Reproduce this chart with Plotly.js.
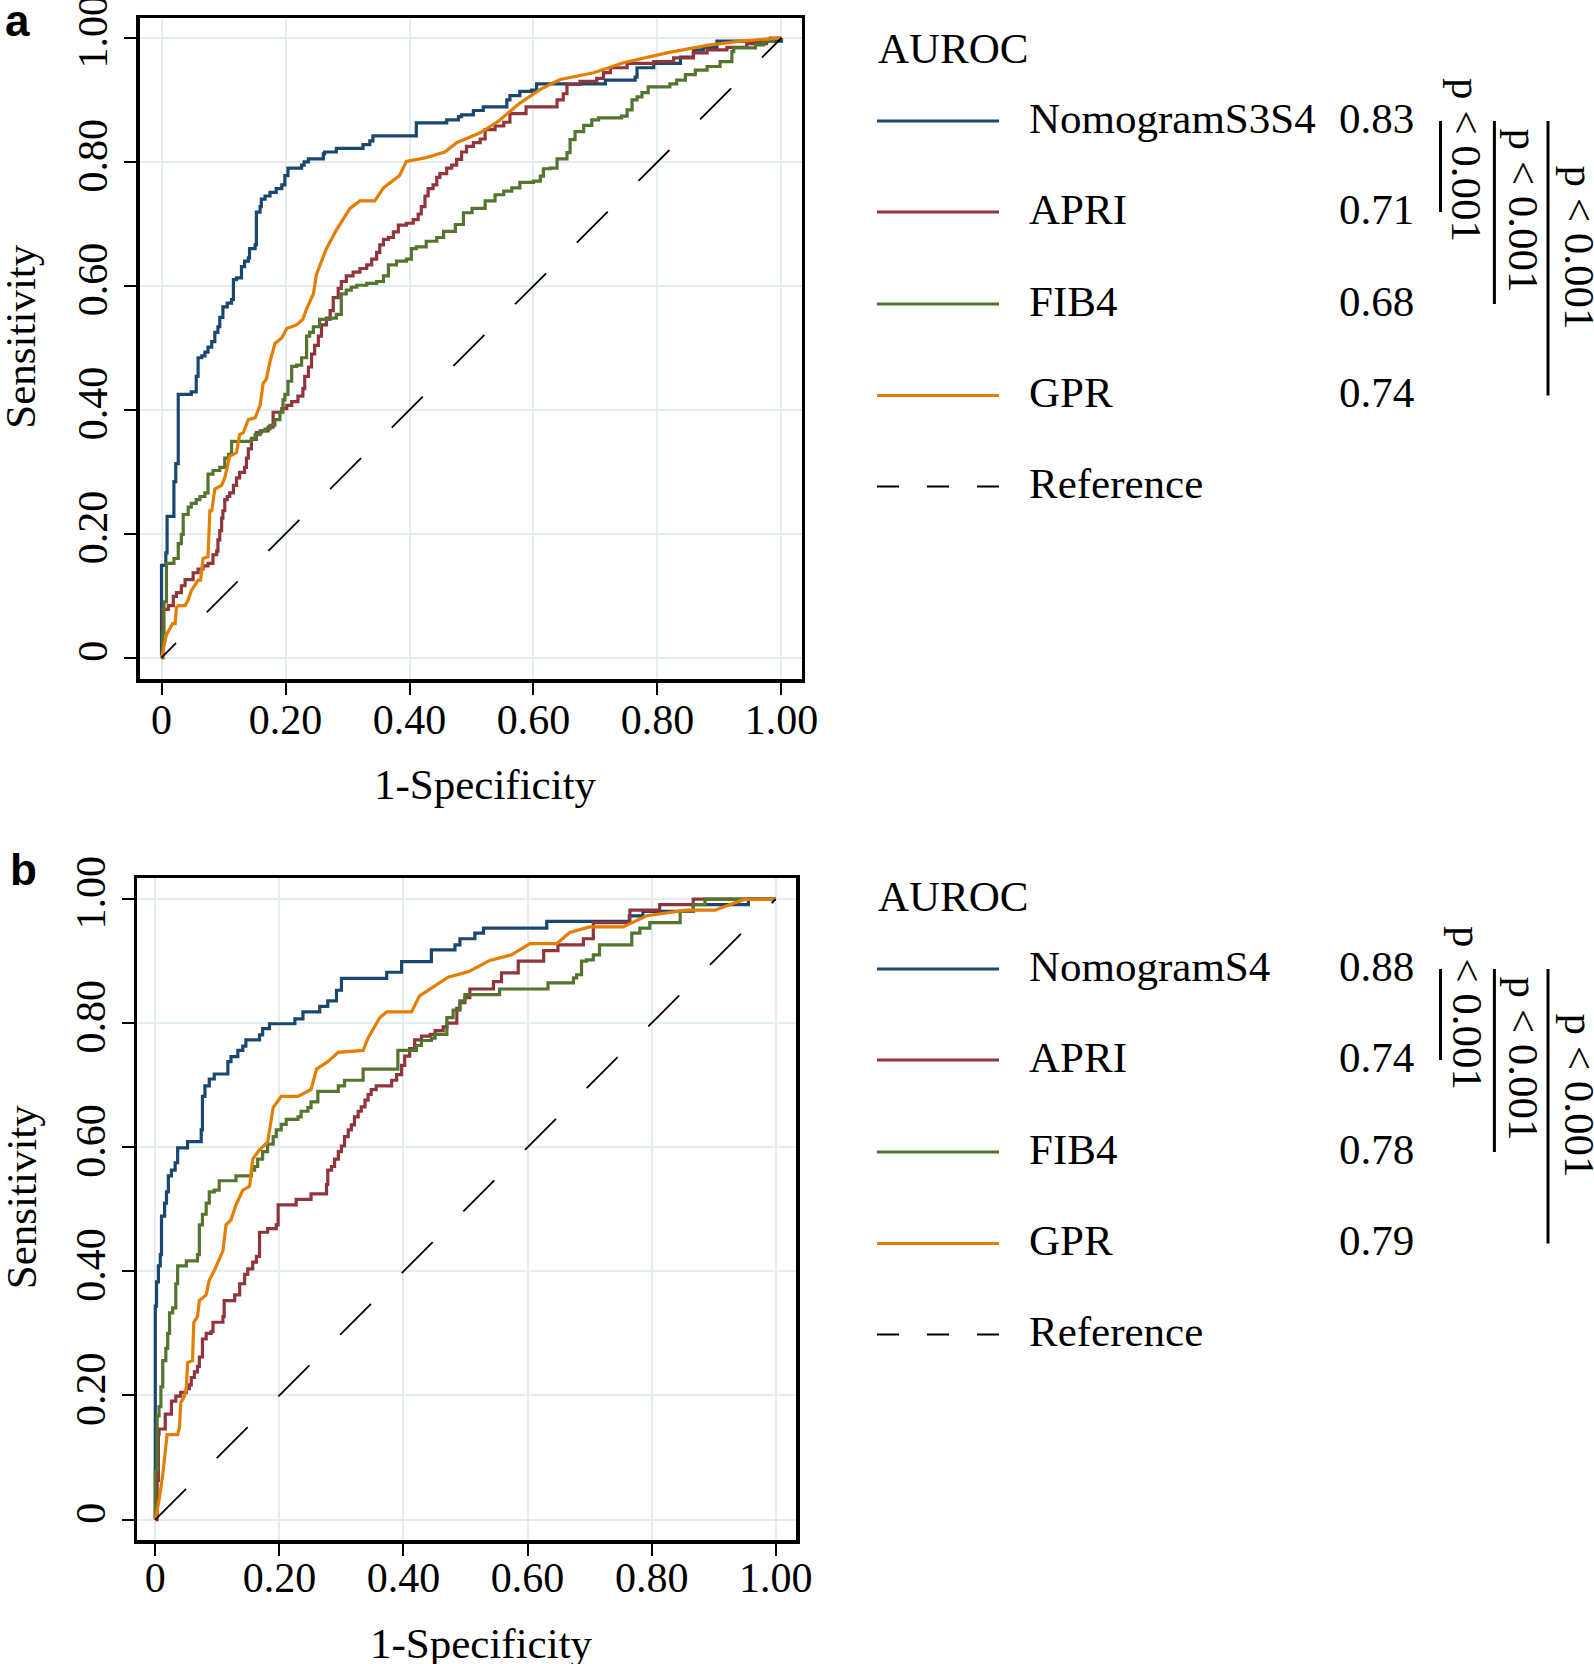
<!DOCTYPE html>
<html><head><meta charset="utf-8">
<script src="https://cdn.plot.ly/plotly-3.0.1.min.js"></script>
<style>html,body{margin:0;padding:0;background:#fff}</style>
</head><body><div id="chart" style="width:1594px;height:1664px"></div>
<script>
// ---------------- DATA ----------------
const tickVals = [0, 0.2, 0.4, 0.6, 0.8, 1.0];
const tickText = ['0', '0.20', '0.40', '0.60', '0.80', '1.00'];
const xTitle = '1-Specificity';
const yTitle = 'Sensitivity';
const panelLabels = ['a', 'b'];
const legendTitle = 'AUROC';
const refName = 'Reference';
const pText = 'p < 0.001';

const namesA = ['NomogramS3S4', 'APRI', 'FIB4', 'GPR'];
const aurocA = ['0.83', '0.71', '0.68', '0.74'];
const namesB = ['NomogramS4', 'APRI', 'FIB4', 'GPR'];
const aurocB = ['0.88', '0.74', '0.78', '0.79'];
const colors = ['#1a476f', '#90353b', '#55752f', '#e37e00'];

const refX = [0, 1];
const refY = [0, 1];

// Panel a
const aNomX = [0,0,0.007,0.009,0.02,0.023,0.027,0.048,0.056,0.059,0.065,0.07,0.075,0.081,0.086,0.091,0.094,0.099,0.106,0.113,0.116,0.121,0.129,0.134,0.14,0.142,0.151,0.153,0.159,0.161,0.167,0.175,0.185,0.194,0.199,0.204,0.226,0.23,0.237,0.261,0.263,0.282,0.325,0.336,0.341,0.411,0.46,0.479,0.484,0.503,0.519,0.557,0.562,0.578,0.597,0.605,0.716,0.764,0.767,0.794,0.837,0.858,0.874,0.896,1.0];
const aNomY = [0,0.149,0.169,0.228,0.284,0.313,0.425,0.429,0.454,0.484,0.487,0.493,0.501,0.51,0.525,0.534,0.549,0.566,0.572,0.578,0.61,0.613,0.631,0.64,0.645,0.66,0.666,0.719,0.728,0.74,0.745,0.751,0.757,0.763,0.778,0.79,0.795,0.8,0.805,0.813,0.816,0.822,0.828,0.834,0.842,0.863,0.868,0.873,0.876,0.883,0.889,0.9,0.907,0.914,0.916,0.926,0.932,0.937,0.952,0.959,0.969,0.981,0.985,0.995,1.0];

const aApriX = [0,0.002,0.011,0.019,0.024,0.032,0.038,0.051,0.059,0.067,0.075,0.083,0.089,0.091,0.094,0.097,0.099,0.102,0.106,0.11,0.116,0.121,0.126,0.134,0.137,0.14,0.145,0.153,0.161,0.172,0.18,0.194,0.202,0.21,0.22,0.228,0.231,0.237,0.242,0.247,0.253,0.258,0.266,0.272,0.277,0.285,0.29,0.298,0.309,0.32,0.331,0.339,0.347,0.352,0.358,0.366,0.374,0.382,0.395,0.406,0.414,0.419,0.425,0.43,0.438,0.444,0.449,0.46,0.468,0.476,0.484,0.492,0.503,0.514,0.522,0.538,0.552,0.562,0.588,0.638,0.648,0.654,0.675,0.702,0.713,0.724,0.751,0.794,0.826,0.858,0.88,0.912,0.944,0.976,0.982,1.0];
const aApriY = [0,0.078,0.084,0.099,0.105,0.116,0.126,0.137,0.143,0.148,0.152,0.166,0.172,0.19,0.205,0.225,0.237,0.255,0.26,0.266,0.278,0.29,0.299,0.307,0.322,0.337,0.352,0.363,0.366,0.372,0.396,0.402,0.407,0.413,0.422,0.434,0.454,0.469,0.49,0.504,0.519,0.537,0.548,0.56,0.581,0.596,0.607,0.616,0.622,0.628,0.634,0.643,0.654,0.666,0.675,0.678,0.687,0.698,0.701,0.707,0.716,0.728,0.745,0.757,0.763,0.775,0.781,0.79,0.795,0.804,0.816,0.825,0.831,0.837,0.852,0.858,0.864,0.878,0.889,0.9,0.91,0.925,0.93,0.935,0.944,0.952,0.959,0.962,0.968,0.976,0.981,0.985,0.991,0.997,1.0,1.0];

const aFibX = [0,0.002,0.004,0.008,0.02,0.027,0.032,0.035,0.043,0.048,0.056,0.062,0.07,0.075,0.083,0.094,0.102,0.108,0.113,0.145,0.151,0.159,0.167,0.175,0.183,0.191,0.196,0.199,0.204,0.21,0.218,0.226,0.234,0.239,0.245,0.255,0.272,0.282,0.29,0.298,0.306,0.315,0.331,0.347,0.358,0.366,0.379,0.395,0.403,0.411,0.427,0.444,0.455,0.474,0.487,0.501,0.522,0.538,0.552,0.565,0.578,0.6,0.611,0.616,0.627,0.638,0.654,0.659,0.667,0.681,0.694,0.705,0.742,0.751,0.759,0.767,0.775,0.785,0.82,0.831,0.845,0.861,0.88,0.901,0.92,0.923,0.958,0.971,0.987,1.0];
const aFibY = [0,0.04,0.09,0.152,0.16,0.184,0.199,0.231,0.243,0.249,0.255,0.26,0.266,0.296,0.302,0.307,0.322,0.328,0.349,0.354,0.36,0.366,0.369,0.375,0.384,0.396,0.416,0.425,0.446,0.47,0.472,0.484,0.519,0.525,0.534,0.546,0.548,0.554,0.587,0.593,0.598,0.601,0.604,0.607,0.616,0.634,0.64,0.643,0.66,0.663,0.672,0.678,0.688,0.699,0.718,0.725,0.737,0.747,0.753,0.758,0.767,0.769,0.777,0.789,0.79,0.805,0.815,0.836,0.849,0.859,0.868,0.871,0.874,0.884,0.9,0.905,0.912,0.921,0.926,0.932,0.941,0.948,0.954,0.962,0.978,0.984,0.989,0.995,0.999,1.0];

const aGprX = [0,0.003,0.008,0.013,0.018,0.022,0.024,0.027,0.038,0.043,0.048,0.059,0.063,0.067,0.075,0.078,0.081,0.086,0.097,0.102,0.11,0.121,0.126,0.132,0.14,0.151,0.159,0.164,0.169,0.175,0.183,0.194,0.202,0.218,0.228,0.234,0.245,0.25,0.255,0.266,0.282,0.304,0.32,0.344,0.358,0.384,0.395,0.427,0.457,0.476,0.514,0.544,0.578,0.611,0.643,0.697,0.745,0.815,0.88,0.933,1.0];
const aGprY = [0,0.013,0.037,0.046,0.055,0.055,0.081,0.084,0.084,0.093,0.108,0.125,0.125,0.16,0.163,0.237,0.237,0.272,0.278,0.29,0.325,0.331,0.36,0.363,0.384,0.387,0.407,0.443,0.449,0.478,0.507,0.516,0.531,0.537,0.546,0.563,0.587,0.619,0.631,0.66,0.69,0.725,0.737,0.737,0.758,0.778,0.801,0.807,0.816,0.831,0.847,0.866,0.895,0.917,0.933,0.944,0.96,0.976,0.988,0.995,1.0];

// Panel b
const bNomX = [0,0,0.002,0.005,0.008,0.01,0.015,0.018,0.021,0.026,0.032,0.036,0.052,0.074,0.076,0.08,0.087,0.095,0.117,0.122,0.133,0.141,0.146,0.168,0.173,0.184,0.225,0.238,0.265,0.278,0.292,0.3,0.373,0.397,0.445,0.483,0.491,0.515,0.529,0.631,0.764,0.786,0.867,0.956,1.0];
const bNomY = [0,0.344,0.383,0.409,0.427,0.489,0.51,0.528,0.554,0.563,0.575,0.599,0.609,0.628,0.682,0.699,0.71,0.718,0.738,0.746,0.756,0.763,0.773,0.781,0.791,0.799,0.807,0.818,0.827,0.836,0.853,0.872,0.882,0.899,0.918,0.926,0.936,0.945,0.953,0.964,0.973,0.98,0.991,1.0,1.0];

const bApriX = [0,0.003,0.005,0.006,0.016,0.026,0.033,0.041,0.05,0.055,0.058,0.063,0.068,0.071,0.076,0.082,0.09,0.093,0.109,0.111,0.128,0.136,0.144,0.149,0.157,0.163,0.168,0.181,0.195,0.198,0.227,0.251,0.276,0.278,0.284,0.289,0.295,0.3,0.305,0.311,0.316,0.321,0.327,0.332,0.338,0.343,0.348,0.356,0.381,0.389,0.397,0.402,0.41,0.418,0.429,0.443,0.451,0.464,0.47,0.486,0.491,0.499,0.507,0.545,0.558,0.585,0.626,0.649,0.69,0.706,0.765,0.813,0.867,1.0];
const bApriY = [0,0.063,0.137,0.146,0.17,0.191,0.199,0.205,0.211,0.217,0.229,0.238,0.247,0.262,0.291,0.3,0.303,0.318,0.327,0.353,0.362,0.38,0.395,0.404,0.415,0.424,0.463,0.469,0.475,0.507,0.516,0.525,0.54,0.563,0.569,0.581,0.593,0.602,0.617,0.628,0.636,0.649,0.658,0.665,0.676,0.685,0.693,0.699,0.708,0.717,0.732,0.747,0.759,0.773,0.779,0.782,0.788,0.794,0.8,0.824,0.833,0.841,0.855,0.867,0.881,0.9,0.917,0.926,0.936,0.962,0.982,0.991,1.0,1.0];

const bFibX = [0,0,0.003,0.006,0.009,0.012,0.017,0.02,0.023,0.028,0.033,0.036,0.05,0.068,0.071,0.076,0.082,0.087,0.095,0.103,0.13,0.155,0.16,0.165,0.173,0.181,0.19,0.195,0.203,0.211,0.23,0.235,0.246,0.251,0.262,0.295,0.305,0.335,0.391,0.421,0.429,0.445,0.451,0.47,0.48,0.491,0.499,0.555,0.633,0.674,0.679,0.687,0.695,0.706,0.716,0.768,0.781,0.797,0.846,0.867,0.886,1.0];
const bFibY = [0,0.078,0.167,0.182,0.214,0.256,0.276,0.3,0.333,0.341,0.38,0.409,0.417,0.427,0.475,0.492,0.51,0.528,0.531,0.546,0.554,0.563,0.569,0.581,0.593,0.605,0.617,0.628,0.637,0.645,0.649,0.658,0.664,0.673,0.69,0.699,0.708,0.726,0.756,0.764,0.772,0.776,0.782,0.809,0.821,0.836,0.846,0.855,0.865,0.873,0.878,0.9,0.902,0.91,0.926,0.945,0.953,0.962,0.98,0.991,1.0,1.0];

const bGprX = [0,0.004,0.006,0.012,0.016,0.019,0.036,0.039,0.041,0.047,0.05,0.052,0.06,0.062,0.068,0.071,0.082,0.087,0.095,0.103,0.109,0.114,0.122,0.13,0.141,0.152,0.157,0.168,0.181,0.19,0.203,0.23,0.251,0.26,0.278,0.295,0.335,0.343,0.362,0.373,0.413,0.426,0.445,0.472,0.505,0.539,0.574,0.604,0.647,0.668,0.7,0.754,0.792,0.856,0.902,0.948,1.0];
const bGprY = [0,0.019,0.031,0.072,0.114,0.137,0.137,0.149,0.188,0.199,0.211,0.253,0.256,0.318,0.327,0.353,0.362,0.386,0.401,0.418,0.433,0.475,0.483,0.507,0.531,0.537,0.581,0.596,0.608,0.664,0.682,0.682,0.693,0.726,0.738,0.753,0.756,0.776,0.809,0.818,0.818,0.844,0.856,0.874,0.883,0.901,0.91,0.928,0.928,0.946,0.955,0.955,0.973,0.982,0.982,0.999,1.0];

// ---------------- LAYOUT (pixel geometry) ----------------
const W = 1594, H = 1664;
const fx = p => p / W;
const fy = p => 1 - p / H;
const SERIF = 'Liberation Serif, Times New Roman, serif';

function dashPattern(first, dash, gap, total) {
  const parts = [first, gap];
  let len = first + gap;
  while (len < total) { parts.push(dash, gap); len += dash + gap; }
  return parts.map(v => v + 'px').join(',');
}

const panels = [
  { xa: 'x', ya: 'y', xdom: [139.5, 801.5], ydom: [18.3, 679], xr: [-0.0355, 1.0323], yr: [-0.0345, 1.0318],
    series: [[aNomX, aNomY, 'hv'], [aApriX, aApriY, 'hv'], [aFibX, aFibY, 'hv'], [aGprX, aGprY, 'linear']],
    refDash: dashPattern(20.5, 43.8, 43.4, 900), names: namesA, aucs: aurocA, dy: 0, frameBottom: 681, xStand: -11 },
  { xa: 'x2', ya: 'y2', xdom: [137, 796], ydom: [878.3, 1540], xr: [-0.0295, 1.0327], yr: [-0.0329, 1.0334],
    series: [[bNomX, bNomY, 'hv'], [bApriX, bApriY, 'hv'], [bFibX, bFibY, 'hv'], [bGprX, bGprY, 'linear']],
    refDash: dashPattern(43.5, 43.8, 43.4, 900), names: namesB, aucs: aurocB, dy: 848, frameBottom: 1540, xStand: -14 }
];

const traces = [];
const layout = {
  width: W, height: H, margin: { l: 0, r: 0, t: 0, b: 0 },
  paper_bgcolor: '#ffffff', plot_bgcolor: '#ffffff', showlegend: false,
  font: { family: SERIF, color: '#000000' },
  annotations: [], shapes: []
};

const axisCommon = {
  tickvals: tickVals, ticktext: tickText, ticks: 'outside', ticklen: 12, tickwidth: 2, tickcolor: '#000',
  showline: true, mirror: true, linewidth: 3.5, linecolor: '#000',
  showgrid: true, gridcolor: '#e4ecef', gridwidth: 2, zeroline: false, ticklabeloverflow: 'allow',
  tickfont: { family: SERIF, size: 42, color: '#000' }, fixedrange: true
};

panels.forEach((p, i) => {
  const xk = i === 0 ? 'xaxis' : 'xaxis2';
  const yk = i === 0 ? 'yaxis' : 'yaxis2';
  layout[xk] = Object.assign({}, axisCommon, { domain: [fx(p.xdom[0]), fx(p.xdom[1])], range: p.xr, anchor: p.ya, tickangle: 0, ticklabelstandoff: p.xStand });
  layout[yk] = Object.assign({}, axisCommon, { domain: [fy(p.ydom[1]), fy(p.ydom[0])], range: p.yr, anchor: p.xa, tickangle: -90, ticklabelstandoff: 0 });

  p.series.forEach((s, k) => {
    traces.push({ type: 'scatter', mode: 'lines', x: s[0], y: s[1], xaxis: p.xa, yaxis: p.ya,
      line: { color: colors[k], width: 3.2, shape: s[2] }, hoverinfo: 'skip' });
  });
  traces.push({ type: 'scatter', mode: 'lines', x: refX, y: refY, xaxis: p.xa, yaxis: p.ya,
    line: { color: '#000', width: 1.8, dash: p.refDash }, hoverinfo: 'skip' });

  // panel label
  layout.annotations.push({ xref: 'paper', yref: 'paper', x: fx(i === 0 ? 3 : 8), y: fy(i === 0 ? 20.5 : 869.8),
    xanchor: 'left', yanchor: 'middle', showarrow: false, text: '<b>' + panelLabels[i] + '</b>',
    font: { family: 'Liberation Sans, Arial, sans-serif', size: 44, color: '#000' } });

  // axis titles
  const xc = (p.xdom[0] + p.xdom[1]) / 2 + 15;
  layout.annotations.push({ xref: 'paper', yref: 'paper', x: fx(xc), y: fy(p.frameBottom + 103.5),
    xanchor: 'center', yanchor: 'middle', showarrow: false, text: xTitle, font: { family: SERIF, size: 43, color: '#000' } });
  const yc = (p.ydom[0] + p.ydom[1]) / 2 - 12;
  layout.annotations.push({ xref: 'paper', yref: 'paper', x: fx(21), y: fy(yc), textangle: -90,
    xanchor: 'center', yanchor: 'middle', showarrow: false, text: yTitle, font: { family: SERIF, size: 43, color: '#000' } });

  // legend block
  const dy = p.dy;
  const rows = [121, 212, 304, 395.5, 486.5].map(v => v + dy);
  layout.annotations.push({ xref: 'paper', yref: 'paper', x: fx(875.5), y: fy(48.8 + dy), xanchor: 'left', yanchor: 'middle',
    showarrow: false, text: legendTitle, font: { family: SERIF, size: 43, color: '#000' } });
  for (let k = 0; k < 4; k++) {
    layout.shapes.push({ type: 'line', xref: 'paper', yref: 'paper', x0: fx(877), x1: fx(999), y0: fy(rows[k]), y1: fy(rows[k]),
      line: { color: colors[k], width: 3 } });
    layout.annotations.push({ xref: 'paper', yref: 'paper', x: fx(1026.5), y: fy(rows[k] - 3), xanchor: 'left', yanchor: 'middle',
      showarrow: false, text: p.names[k], font: { family: SERIF, size: 43, color: '#000' } });
    layout.annotations.push({ xref: 'paper', yref: 'paper', x: fx(1336.5), y: fy(rows[k] - 3), xanchor: 'left', yanchor: 'middle',
      showarrow: false, text: p.aucs[k], font: { family: SERIF, size: 43, color: '#000' } });
  }
  layout.shapes.push({ type: 'line', xref: 'paper', yref: 'paper', x0: fx(877), x1: fx(999), y0: fy(rows[4]), y1: fy(rows[4]),
    line: { color: '#000', width: 1.8, dash: '22px,28px' } });
  layout.annotations.push({ xref: 'paper', yref: 'paper', x: fx(1026.5), y: fy(rows[4] - 3), xanchor: 'left', yanchor: 'middle',
    showarrow: false, text: refName, font: { family: SERIF, size: 43, color: '#000' } });

  // p-value brackets
  const bx = [1440.5, 1494.4, 1548];
  const tx = [1467, 1523, 1579];
  const ty = [160, 210.5, 247.5];
  for (let k = 0; k < 3; k++) {
    layout.shapes.push({ type: 'line', xref: 'paper', yref: 'paper', x0: fx(bx[k]), x1: fx(bx[k]), y0: fy(rows[0]), y1: fy(rows[k + 1]),
      line: { color: '#000', width: 3 } });
    layout.annotations.push({ xref: 'paper', yref: 'paper', x: fx(tx[k]), y: fy(ty[k] + dy), textangle: 90,
      xanchor: 'center', yanchor: 'middle', showarrow: false, text: pText, font: { family: SERIF, size: 43, color: '#000' } });
  }
});

Plotly.newPlot('chart', traces, layout, { staticPlot: true, displayModeBar: false });
</script>
</body></html>
